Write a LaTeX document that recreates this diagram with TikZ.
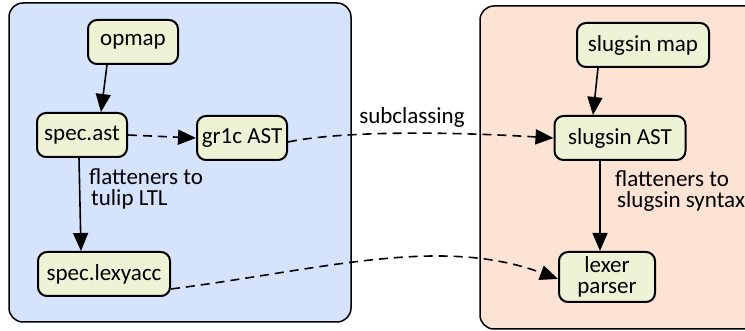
\documentclass[tikz,border=0pt]{standalone}
\usepackage{fontspec}
\setmainfont{Carlito}
\usetikzlibrary{arrows.meta}
\definecolor{bluebg}{RGB}{213,227,252}
\definecolor{peachbg}{RGB}{253,227,212}
\definecolor{nodefill}{RGB}{239,243,214}
\begin{document}
\begin{tikzpicture}[x=1pt,y=-1pt, font=\fontsize{23}{21}\selectfont,
 box/.style={draw=black, line width=2pt, rounded corners=9pt, fill=nodefill, minimum height=44pt, inner sep=0pt, align=center},
 container/.style={draw=black, line width=1.5pt, rounded corners=14pt},
 arr/.style={line width=1.6pt, -{Triangle[length=18pt,width=15pt]}},
 darr/.style={arr, dash pattern=on 9pt off 6pt},
 lbl/.style={anchor=north west, align=left, inner sep=0pt}]
\useasboundingbox (0,0) rectangle (745,331);
\clip (0,0) rectangle (745,331);
\draw[container, fill=bluebg] (9,3) rectangle (351,322);
\draw[container, fill=peachbg] (480,6) rectangle (770,329);
\node[box, minimum width=90pt] (opmap) at (133,42) {opmap};
\node[box, minimum width=90pt] (ast) at (82,135) {spec.ast};
\node[box, minimum width=90pt] (gr1c) at (242,138) {gr1c AST};
\node[box, minimum width=132pt] (lexyacc) at (104,274) {spec.lexyacc};
\node[box, minimum width=132pt] (smap) at (643,45) {slugsin map};
\node[box, minimum width=131pt] (sast) at (620,138) {slugsin AST};
\node[box, minimum width=96pt, minimum height=50pt] (lp) at (607,277) {lexer\\parser};
\draw[arr] ([xshift=-26pt]opmap.south) -- ([xshift=19pt]ast.north);
\draw[arr] ([xshift=-3pt]ast.south) -- ([xshift=-23pt]lexyacc.north);
\draw[darr] (ast.east) -- (gr1c.west);
\draw[arr] ([xshift=-45pt]smap.south) -- ([xshift=-27pt]sast.north);
\draw[arr] ([xshift=-20pt]sast.south) -- ([xshift=-7pt]lp.north);
\draw[darr] ([yshift=-4pt]gr1c.east) .. controls (330,133) and (420,130) .. (sast.west);
\draw[darr] ([yshift=-15pt]lexyacc.east) .. controls (320,270) and (440,235) .. ([yshift=-2pt]lp.west);
\node[lbl] (l1) at (89,168) {flatteners to\\\hspace*{2pt}tulip LTL};
\node[lbl] (l2) at (615,170) {flatteners to\\\hspace*{2pt}slugsin syntax};
\node (sub) at (412,117) {subclassing};
\end{tikzpicture}
\end{document}
